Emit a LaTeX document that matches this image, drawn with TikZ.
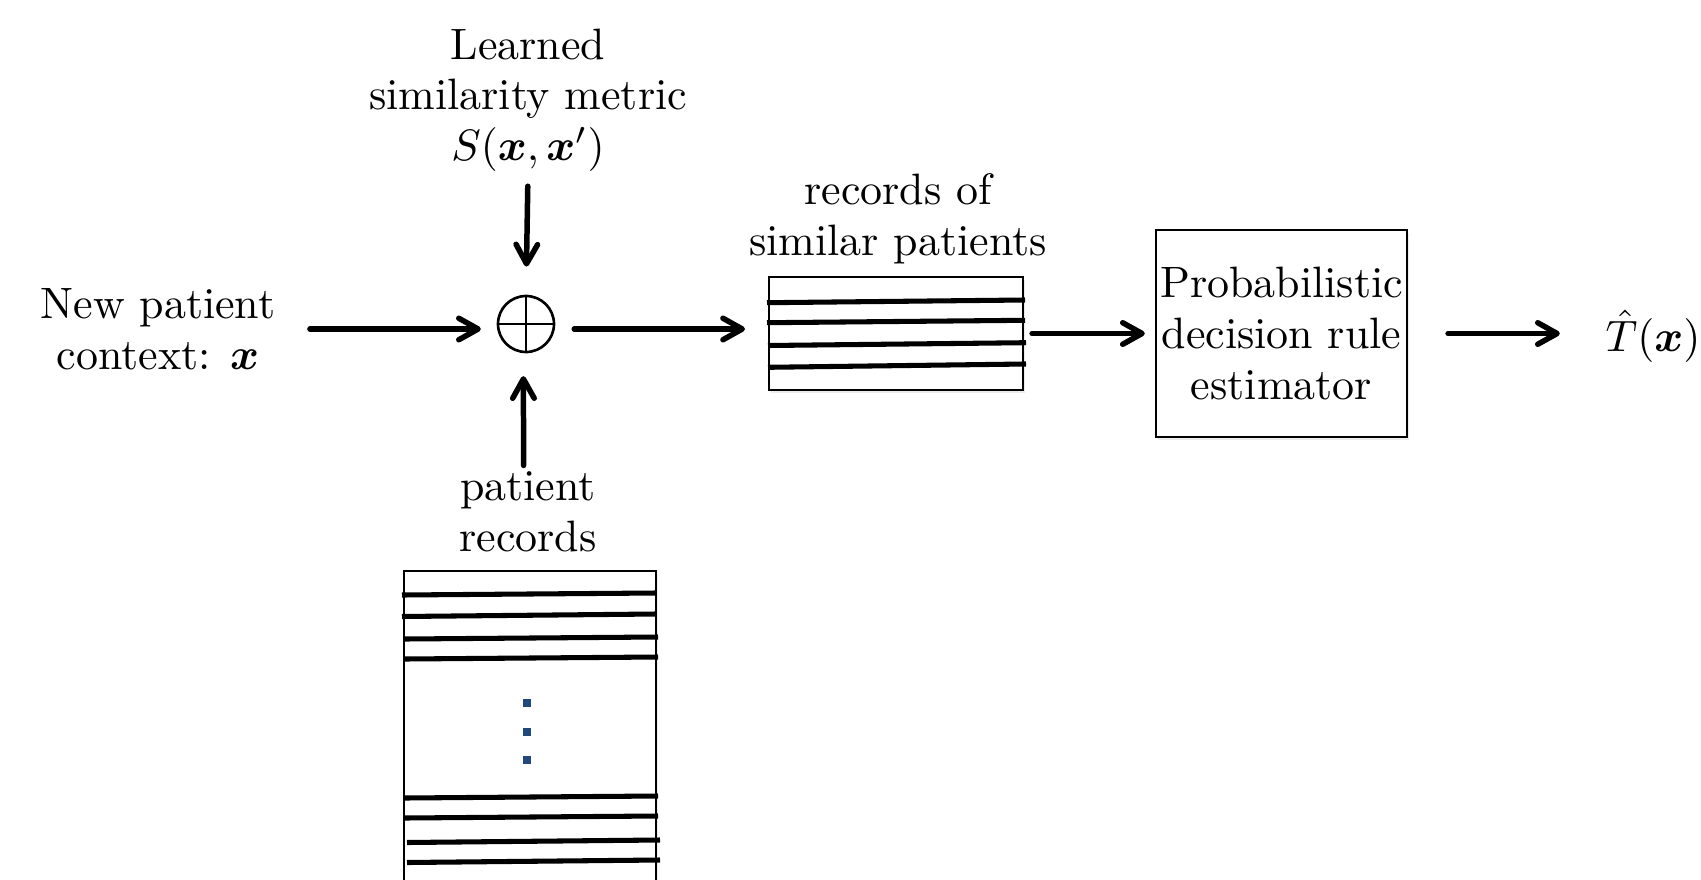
\documentclass[tikz,border=0pt]{standalone}
\usepackage{amsmath,bm}
\usetikzlibrary{arrows.meta,shadows}
\definecolor{dotblue}{RGB}{31,73,125}
\begin{document}
\begin{tikzpicture}[x=0.2275pt,y=-0.2275pt,
  font=\fontsize{10}{11.5}\selectfont,
  arr/.style={line width=1.25pt, line cap=round,
    -{Straight Barb[length=4.4pt,width=4.9pt,round]}},
  txt/.style={align=center, inner sep=0pt},
  box/.style={draw, line width=0.5pt, rectangle, inner sep=0.5pt, fill=white,
    drop shadow={opacity=0.15, shadow xshift=0.5pt, shadow yshift=-0.7pt}},
  recline/.style={line width=1.15pt},
  dotsq/.style={fill=dotblue, draw=none, minimum size=2pt, inner sep=0pt, rectangle}]
\useasboundingbox (0,0) rectangle (1701,879);

% text nodes
\node[txt] (newp) at (158,329) {New patient\\context: $\bm{x}$};
\node[txt] (learned) at (528,100) {Learned\\similarity metric\\$S(\bm{x},\bm{x}')$};
\node[txt] (plabel) at (528,512) {patient\\records};
\node[txt] (simlabel) at (898,219) {records of\\similar patients};
\node[txt] (tout) at (1653,336) {$\hat{T}(\bm{x})$};

% summing junction
\node[draw, circle, line width=0.6pt, minimum size=12.74pt, inner sep=0pt] (sum) at (526,324) {};
\draw[line width=0.6pt] (sum.north) -- (sum.south) (sum.west) -- (sum.east);

% similar records box
\node[box, minimum width=57.8pt, minimum height=25.7pt] (simrec) at (896,333.5) {};
\draw[recline] (767,302.7) -- (1025,300);
\draw[recline] (767,322.7) -- (1025,320.3);
\draw[recline] (768,345.5) -- (1026,342.7);
\draw[recline] (768,367.3) -- (1026,364);

% decision box
\node[box, minimum width=57.1pt, minimum height=47.1pt, align=center] (dec) at (1281.5,333.5)
  {Probabilistic\\decision rule\\estimator};

% patient records box
\node[box, minimum width=57.33pt, minimum height=73pt, anchor=north] (db) at (530,570) {};
\draw[recline] (402,595) -- (656,593);
\draw[recline] (402,616.5) -- (656,614);
\draw[recline] (405,639) -- (658,637);
\draw[recline] (405,659) -- (658,657);
\draw[recline] (405,798) -- (658,796);
\draw[recline] (405,818) -- (658,816);
\draw[recline] (407,842.5) -- (660,840);
\draw[recline] (407,862.5) -- (660,860);
\node[dotsq] (d1) at (527,703) {};
\node[dotsq] (d2) at (527,732) {};
\node[dotsq] (d3) at (527,760) {};

% connectors
\draw[arr, shorten <=7.7pt, shorten >=3.6pt] (newp.east) -- (newp.east -| sum.west);
\draw[arr, shorten <=4.3pt, shorten >=5.2pt] (sum.east |- newp.east) -- (simrec.west |- newp.east);
\draw[arr, shorten <=3.2pt, shorten >=6.4pt] (learned.south) -- (sum.north);
\draw[arr, shorten <=1.3pt, shorten >=5.2pt] ([xshift=-1pt]plabel.north) -- ([xshift=-0.6pt]sum.south);
\draw[arr, shorten <=1.8pt, shorten >=2.3pt] (simrec.east) -- (dec.west);
\draw[arr, shorten <=9.1pt, shorten >=10.2pt] (dec.east) -- (dec.east -| tout.west);
\end{tikzpicture}
\end{document}
